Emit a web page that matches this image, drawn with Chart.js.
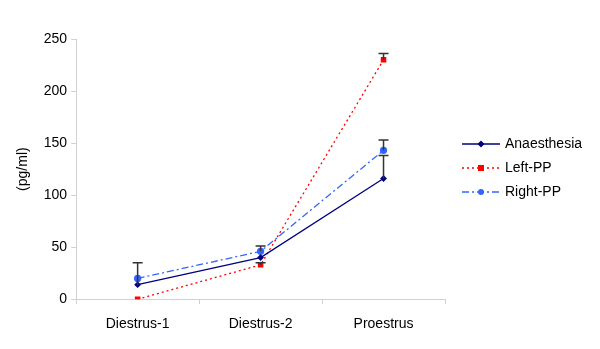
<html>
<head>
<script src="https://cdn.jsdelivr.net/npm/chart.js@4.4.0/dist/chart.umd.min.js"></script>
<style>
body { margin: 0; background: #fff; }
#wrap { width: 600px; height: 349px; }
</style>
</head>
<body>
<div id="wrap"><canvas id="chart"></canvas></div>
<script>
var categories = ['Diestrus-1', 'Diestrus-2', 'Proestrus'];
var anaesthesia = [14, 40, 116];
var leftPP = [0, 33, 230];
var rightPP = [20, 46, 143];
// upper error (SE) for each point
var anaesthesiaErr = [21, 0, 22];
var leftPPErr = [0, 2, 6];
var rightPPErr = [0, 5, 10];

var errorBars = {
  id: 'errorBars',
  afterDatasetsDraw: function(chart) {
    var ctx = chart.ctx;
    var y = chart.scales.y;
    ctx.save();
    ctx.strokeStyle = '#333';
    ctx.lineWidth = 1.5;
    chart.data.datasets.forEach(function(ds, i) {
      var meta = chart.getDatasetMeta(i);
      meta.data.forEach(function(pt, j) {
        var e = ds.err[j];
        if (!e) return;
        var top = y.getPixelForValue(ds.data[j] + e);
        ctx.beginPath();
        ctx.moveTo(pt.x, pt.y);
        ctx.lineTo(pt.x, top);
        ctx.moveTo(pt.x - 5, top);
        ctx.lineTo(pt.x + 5, top);
        ctx.stroke();
      });
    });
    ctx.restore();
  }
};

var sideLegend = {
  id: 'sideLegend',
  afterDraw: function(chart) {
    var ctx = chart.ctx;
    ctx.save();
    ctx.font = '14px "Liberation Sans", Arial, sans-serif';
    ctx.textBaseline = 'middle';
    chart.data.datasets.forEach(function(ds, i) {
      var ly = 144 + i * 24;
      ctx.strokeStyle = ds.borderColor;
      ctx.lineWidth = ds.borderWidth;
      ctx.setLineDash(ds.borderDash || []);
      ctx.beginPath();
      ctx.moveTo(462, ly);
      ctx.lineTo(500, ly);
      ctx.stroke();
      ctx.setLineDash([]);
      ctx.fillStyle = ds.borderColor;
      var s = ds.pointRadius;
      if (ds.pointStyle === 'rect') {
        ctx.fillRect(481 - s, ly - s, 2 * s, 2 * s);
      } else if (ds.pointStyle === 'rectRot') {
        ctx.beginPath();
        ctx.moveTo(481, ly - s - 1); ctx.lineTo(481 + s + 1, ly);
        ctx.lineTo(481, ly + s + 1); ctx.lineTo(481 - s - 1, ly);
        ctx.fill();
      } else {
        ctx.beginPath();
        ctx.arc(481, ly, s, 0, Math.PI * 2);
        ctx.fill();
      }
      ctx.fillStyle = '#000';
      ctx.fillText(ds.label, 505, ly);
    });
    ctx.restore();
  }
};

new Chart(document.getElementById('chart'), {
  type: 'line',
  data: {
    labels: categories,
    datasets: [
      { label: 'Anaesthesia', data: anaesthesia, err: anaesthesiaErr, borderColor: '#000080', backgroundColor: '#000080',
        borderWidth: 1.3, pointStyle: 'rectRot', pointRadius: 2.5, tension: 0 },
      { label: 'Left-PP', data: leftPP, err: leftPPErr, borderColor: '#ff0000', backgroundColor: '#ff0000',
        borderWidth: 1.3, borderDash: [2, 3], pointStyle: 'rect', pointRadius: 3, tension: 0 },
      { label: 'Right-PP', data: rightPP, err: rightPPErr, borderColor: '#3366ff', backgroundColor: '#3366ff',
        borderWidth: 1.3, borderDash: [7, 3, 2, 3], pointStyle: 'circle', pointRadius: 3, tension: 0 }
    ]
  },
  options: {
    responsive: true,
    maintainAspectRatio: false,
    animation: false,
    layout: { padding: { left: 7, right: 155, top: 39, bottom: 4 } },
    plugins: { legend: { display: false }, tooltip: { enabled: false } },
    scales: {
      x: {
        offset: true,
        grid: { offset: true, drawOnChartArea: false, color: '#d0d0d0', tickLength: 5 },
        border: { color: '#d0d0d0' },
        ticks: { color: '#000', font: { size: 14, family: '"Liberation Sans", Arial, sans-serif' }, padding: 12 }
      },
      y: {
        min: 0, max: 250,
        ticks: { stepSize: 50, color: '#000', font: { size: 14, family: '"Liberation Sans", Arial, sans-serif' }, padding: 4 },
        grid: { drawOnChartArea: false, color: '#d0d0d0', tickLength: 5 },
        border: { color: '#d0d0d0' },
        title: { display: true, text: '(pg/ml)', color: '#000', font: { size: 14, family: '"Liberation Sans", Arial, sans-serif' }, padding: 8 }
      }
    }
  },
  plugins: [errorBars, sideLegend]
});
</script>
</body>
</html>
